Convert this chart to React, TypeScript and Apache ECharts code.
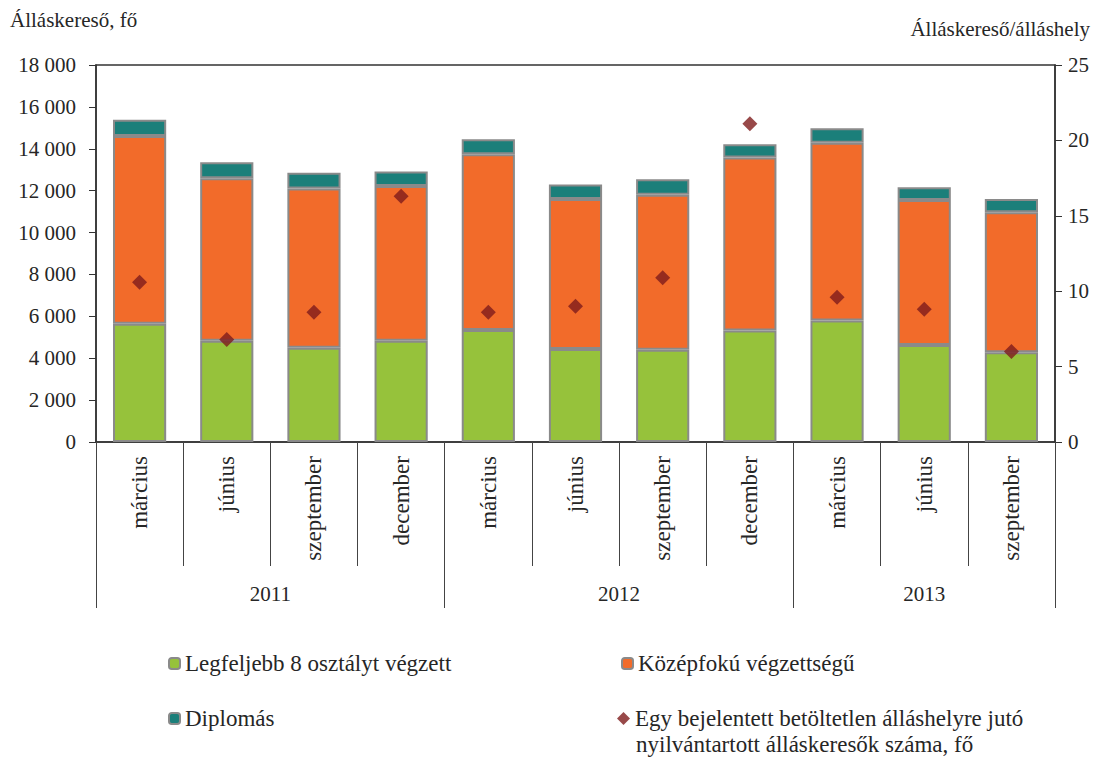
import React, { useEffect, useRef } from "react";
import * as echarts from "echarts";

const months = ["március", "június", "szeptember", "december", "március", "június", "szeptember", "december", "március", "június", "szeptember"];
const years = ["2011", "2012", "2013"];
const yearCounts = [4, 4, 3];

const lowEdu = [5650, 4840, 4500, 4830, 5350, 4440, 4400, 5320, 5800, 4630, 4280];
const midEdu = [8960, 7750, 7600, 7390, 8390, 7160, 7400, 8260, 8490, 6930, 6690];
const highEdu = [770, 770, 760, 690, 720, 690, 740, 640, 690, 600, 630];
const ratio = [10.6, 6.8, 8.6, 16.3, 8.6, 9.0, 10.9, 21.1, 9.6, 8.8, 6.0];

const nameLow = "Legfeljebb 8 osztályt végzett";
const nameMid = "Középfokú végzettségű";
const nameHigh = "Diplomás";
const nameRatio = "Egy bejelentett betöltetlen álláshelyre jutó nyilvántartott álláskeresők száma, fő";
const ratioLine1 = "Egy bejelentett betöltetlen álláshelyre jutó";
const ratioLine2 = "nyilvántartott álláskeresők száma, fő";

const FONT = "Times New Roman, Liberation Serif, DejaVu Serif, serif";
const TXT = "#262626";

export default function App() {
  const ref = useRef<HTMLDivElement>(null);
  useEffect(() => {
    document.body.style.margin = "0";
    if (!ref.current) return;
    const chart = echarts.init(ref.current, undefined, { renderer: "svg" });

    const bounds: number[] = [0];
    const centers: number[] = [];
    yearCounts.forEach((c) => {
      const start = bounds[bounds.length - 1];
      centers.push(start + c / 2);
      bounds.push(start + c);
    });

    const barBorder = { borderColor: "#8a8a8a", borderWidth: 2 };
    const legendBase = {
      orient: "horizontal",
      itemWidth: 11,
      itemHeight: 11,
      textStyle: { fontFamily: FONT, fontSize: 23, color: TXT },
    };
    const titleStyle = { fontFamily: FONT, fontSize: 21, fontWeight: "normal", color: TXT };

    chart.setOption({
      animation: false,
      textStyle: { fontFamily: FONT },
      title: [
        { text: "Álláskereső, fő", left: 10, top: 9, padding: 0, textStyle: titleStyle },
        { text: "Álláskereső/álláshely", right: 12, top: 18, padding: 0, textStyle: titleStyle },
        { text: ratioLine2, left: 636, top: 733, padding: 0, textStyle: { ...titleStyle, fontSize: 23 } },
      ],
      grid: { left: 96, right: 47, top: 65, bottom: 316, show: true, borderColor: "#333", borderWidth: 1.5, backgroundColor: "transparent" },
      legend: [
        { ...legendBase, data: [nameLow], left: 163, top: 647 },
        { ...legendBase, data: [nameMid], left: 616, top: 647 },
        { ...legendBase, data: [nameHigh], left: 163, top: 702 },
        {
          ...legendBase,
          data: [{ name: nameRatio, icon: "diamond" }],
          left: 612,
          top: 702,
          itemWidth: 13,
          itemHeight: 13,
          formatter: () => ratioLine1,
        },
      ],
      xAxis: [
        {
          type: "category",
          data: months,
          gridIndex: 0,
          position: "bottom",
          axisLine: { show: true, lineStyle: { color: "#333", width: 1.5 } },
          axisTick: { show: true, interval: 0, length: 124, lineStyle: { color: "#444", width: 1 } },
          axisLabel: { interval: 0, rotate: 90, margin: 14, fontFamily: FONT, fontSize: 23, color: TXT },
        },
        {
          type: "value",
          gridIndex: 0,
          position: "bottom",
          min: 0,
          max: months.length,
          axisLine: { show: false },
          splitLine: { show: false },
          axisTick: { show: true, customValues: bounds, length: 166, lineStyle: { color: "#444", width: 1 } },
          axisLabel: {
            show: true,
            customValues: centers,
            margin: 141,
            fontFamily: FONT,
            fontSize: 21,
            color: TXT,
            formatter: (v: number) => {
              const i = centers.findIndex((c) => Math.abs(c - v) < 1e-6);
              return i >= 0 ? years[i] : "";
            },
          },
        },
      ],
      yAxis: [
        {
          type: "value",
          min: 0,
          max: 18000,
          interval: 2000,
          position: "left",
          splitLine: { show: false },
          axisLine: { show: true, lineStyle: { color: "#333", width: 1.5 } },
          axisTick: { show: true, length: 7, lineStyle: { color: "#333" } },
          axisLabel: {
            margin: 20,
            fontFamily: FONT,
            fontSize: 21,
            color: TXT,
            formatter: (v: number) => String(v).replace(/\B(?=(\d{3})+(?!\d))/g, " "),
          },
        },
        {
          type: "value",
          min: 0,
          max: 25,
          interval: 5,
          position: "right",
          splitLine: { show: false },
          axisLine: { show: true, lineStyle: { color: "#333", width: 1.5 } },
          axisTick: { show: true, length: 7, lineStyle: { color: "#333" } },
          axisLabel: { margin: 13, fontFamily: FONT, fontSize: 21, color: TXT },
        },
      ],
      series: [
        { name: nameLow, type: "bar", stack: "a", xAxisIndex: 0, yAxisIndex: 0, barWidth: "61%", data: lowEdu, itemStyle: { color: "#96c23b", ...barBorder } },
        { name: nameMid, type: "bar", stack: "a", xAxisIndex: 0, yAxisIndex: 0, barWidth: "61%", data: midEdu, itemStyle: { color: "#f26b2a", ...barBorder } },
        { name: nameHigh, type: "bar", stack: "a", xAxisIndex: 0, yAxisIndex: 0, barWidth: "61%", data: highEdu, itemStyle: { color: "#1b7f7a", ...barBorder } },
        {
          name: nameRatio,
          type: "scatter",
          xAxisIndex: 0,
          yAxisIndex: 1,
          symbol: "diamond",
          symbolSize: 15,
          z: 5,
          data: ratio,
          itemStyle: { color: "#7e1b1b" },
        },
      ],
    });
    return () => chart.dispose();
  }, []);
  return <div ref={ref} style={{ width: 1102, height: 758 }} />;
}
